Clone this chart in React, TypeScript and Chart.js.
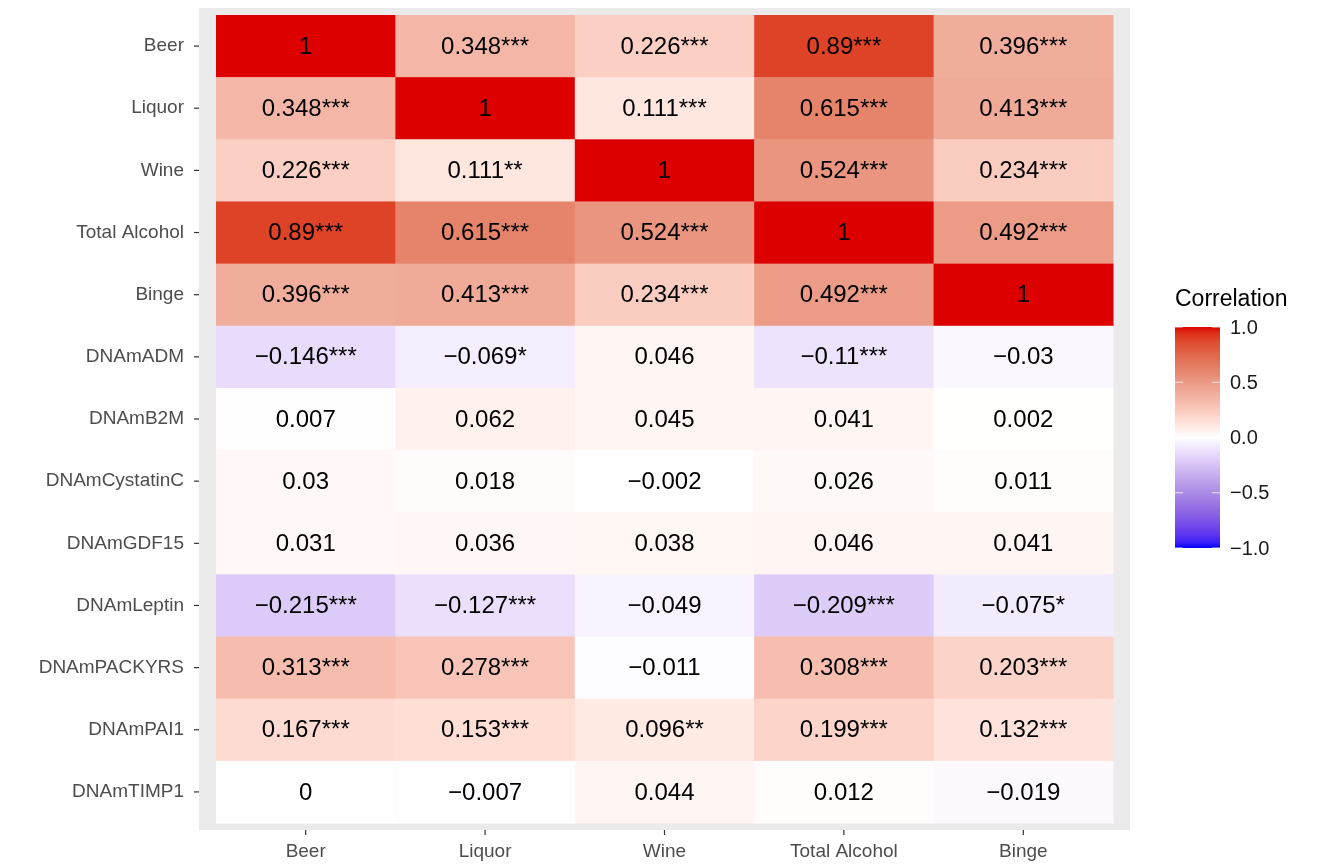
import React, { useRef, useEffect } from "react";
import { Chart, registerables } from "chart.js";

Chart.register(...registerables);

const columns = ["Beer", "Liquor", "Wine", "Total Alcohol", "Binge"];
const rows = [
  "Beer", "Liquor", "Wine", "Total Alcohol", "Binge", "DNAmADM", "DNAmB2M",
  "DNAmCystatinC", "DNAmGDF15", "DNAmLeptin", "DNAmPACKYRS", "DNAmPAI1", "DNAmTIMP1",
];
// one array of displayed labels per column
const beerCells = ["1", "0.348***", "0.226***", "0.89***", "0.396***", "−0.146***", "0.007", "0.03", "0.031", "−0.215***", "0.313***", "0.167***", "0"];
const liquorCells = ["0.348***", "1", "0.111**", "0.615***", "0.413***", "−0.069*", "0.062", "0.018", "0.036", "−0.127***", "0.278***", "0.153***", "−0.007"];
const wineCells = ["0.226***", "0.111***", "1", "0.524***", "0.234***", "0.046", "0.045", "−0.002", "0.038", "−0.049", "−0.011", "0.096**", "0.044"];
const totalCells = ["0.89***", "0.615***", "0.524***", "1", "0.492***", "−0.11***", "0.041", "0.026", "0.046", "−0.209***", "0.308***", "0.199***", "0.012"];
const bingeCells = ["0.396***", "0.413***", "0.234***", "0.492***", "1", "−0.03", "0.002", "0.011", "0.041", "−0.075*", "0.203***", "0.132***", "−0.019"];
const cellColumns = [beerCells, liquorCells, wineCells, totalCells, bingeCells];
const legendTicks = [1, 0.5, 0, -0.5, -1];

const toNumber = (s: string) => parseFloat(s.replace("−", "-").replace(/\*/g, ""));

// Lab interpolation like ggplot's gradient2
function srgbToLin(c: number) { c /= 255; return c <= 0.04045 ? c / 12.92 : Math.pow((c + 0.055) / 1.055, 2.4); }
function linToSrgb(c: number) { const v = c <= 0.0031308 ? 12.92 * c : 1.055 * Math.pow(c, 1 / 2.4) - 0.055; return Math.round(Math.max(0, Math.min(1, v)) * 255); }
const Xn = 0.95047, Yn = 1, Zn = 1.08883;
const f = (t: number) => (t > 216 / 24389 ? Math.cbrt(t) : (24389 / 27 * t + 16) / 116);
const finv = (t: number) => (t * t * t > 216 / 24389 ? t * t * t : (116 * t - 16) / (24389 / 27));
function toLab([r, g, b]: number[]) {
  const R = srgbToLin(r), G = srgbToLin(g), B = srgbToLin(b);
  const X = 0.4124 * R + 0.3576 * G + 0.1805 * B;
  const Y = 0.2126 * R + 0.7152 * G + 0.0722 * B;
  const Z = 0.0193 * R + 0.1192 * G + 0.9505 * B;
  const fx = f(X / Xn), fy = f(Y / Yn), fz = f(Z / Zn);
  return [116 * fy - 16, 500 * (fx - fy), 200 * (fy - fz)];
}
function fromLab([L, a, bb]: number[]) {
  const fy = (L + 16) / 116, fx = fy + a / 500, fz = fy - bb / 200;
  const X = Xn * finv(fx), Y = Yn * finv(fy), Z = Zn * finv(fz);
  const R = 3.2406 * X - 1.5372 * Y - 0.4986 * Z;
  const G = -0.9689 * X + 1.8758 * Y + 0.0415 * Z;
  const B = 0.0557 * X - 0.204 * Y + 1.057 * Z;
  return `rgb(${linToSrgb(R)},${linToSrgb(G)},${linToSrgb(B)})`;
}
const labHigh = toLab([221, 0, 0]);
const labMid = toLab([255, 255, 255]);
const labLow = toLab([0, 0, 255]);
function colorFor(v: number) {
  const end = v >= 0 ? labHigh : labLow;
  const t = Math.min(1, Math.abs(v));
  const lab = labMid.map((m, i) => m + (end[i] - m) * t);
  // slightly muted chroma, as in the reference
  const k = 1 - 0.22 * Math.sin(Math.PI * t);
  return fromLab([lab[0] - 2 * Math.sin(Math.PI * t), lab[1] * k, lab[2] * k]);
}

const heatPlugin = {
  id: "heat",
  beforeDatasetsDraw(chart: any) {
    const { ctx, chartArea: a, scales } = chart;
    const xs = scales.x, ys = scales.y;
    const cw = xs.getPixelForValue(1) - xs.getPixelForValue(0);
    const ch = ys.getPixelForValue(1) - ys.getPixelForValue(0);
    ctx.save();
    ctx.fillStyle = "#ebebeb";
    ctx.fillRect(a.left - 17, a.top - 7, a.width + 34, a.height + 14);
    // tick marks
    ctx.strokeStyle = "#333";
    ctx.lineWidth = 1.2;
    rows.forEach((_, r) => {
      const y = ys.getPixelForValue(r);
      ctx.beginPath(); ctx.moveTo(a.left - 17, y); ctx.lineTo(a.left - 22, y); ctx.stroke();
    });
    columns.forEach((_, c) => {
      const x = xs.getPixelForValue(c);
      ctx.beginPath(); ctx.moveTo(x, a.bottom + 7); ctx.lineTo(x, a.bottom + 12); ctx.stroke();
    });
    ctx.font = "24px 'Liberation Sans', Arial, sans-serif";
    ctx.textAlign = "center";
    ctx.textBaseline = "middle";
    cellColumns.forEach((col, c) => {
      col.forEach((label, r) => {
        const x = xs.getPixelForValue(c), y = ys.getPixelForValue(r);
        ctx.fillStyle = colorFor(toNumber(label));
        ctx.fillRect(x - cw / 2, y - ch / 2, cw + 0.5, ch + 0.5);
        ctx.fillStyle = "#000";
        ctx.fillText(label, x, y + 1);
      });
    });
    // legend
    const lx = 1175, lw = 45, ltop = 327, lbot = 548;
    const grad = ctx.createLinearGradient(0, ltop, 0, lbot);
    for (let i = 0; i <= 40; i++) grad.addColorStop(i / 40, colorFor(1 - (2 * i) / 40));
    ctx.fillStyle = grad;
    ctx.fillRect(lx, ltop, lw, lbot - ltop);
    ctx.font = "23px 'Liberation Sans', Arial, sans-serif";
    ctx.textAlign = "left";
    ctx.fillStyle = "#000";
    ctx.fillText("Correlation", 1175, 300);
    ctx.font = "20px 'Liberation Sans', Arial, sans-serif";
    legendTicks.forEach((t) => {
      const y = ltop + ((1 - t) / 2) * (lbot - ltop);
      ctx.strokeStyle = "rgba(255,255,255,0.8)";
      ctx.beginPath(); ctx.moveTo(lx, y); ctx.lineTo(lx + 8, y); ctx.moveTo(lx + lw - 8, y); ctx.lineTo(lx + lw, y); ctx.stroke();
      ctx.fillStyle = "#1a1a1a";
      ctx.fillText(t === 0 ? "0.0" : (t < 0 ? "−" : "") + Math.abs(t).toFixed(1), 1230, y + 1);
    });
    ctx.restore();
  },
};

export default function App() {
  const canvasRef = useRef<HTMLCanvasElement>(null);

  useEffect(() => {
    document.body.style.margin = "0";
    if (!canvasRef.current) return;
    const ctx = canvasRef.current.getContext("2d");
    if (!ctx) return;
    const tickFont = { family: "'Liberation Sans', Arial, sans-serif", size: 19 };
    const chart = new Chart(ctx, {
      type: "scatter",
      data: {
        datasets: [{
          data: columns.flatMap((c) => rows.map((r) => ({ x: c, y: r }))) as any,
          pointRadius: 0,
        }],
      },
      options: {
        responsive: false,
        animation: false,
        plugins: { legend: { display: false }, tooltip: { enabled: false } },
        layout: { padding: { top: 15, right: 213, bottom: 0, left: 0 } },
        scales: {
          x: {
            type: "category", labels: columns, offset: true,
            grid: { display: false }, border: { display: false },
            ticks: { color: "#4d4d4d", font: tickFont, padding: 9 },
            afterFit: (s: any) => { s.height = 42; s.paddingLeft = 0; s.paddingRight = 0; },
          },
          y: {
            type: "category", labels: rows, offset: true,
            grid: { display: false }, border: { display: false },
            ticks: { color: "#4d4d4d", font: tickFont, padding: 24 },
            afterFit: (s: any) => { s.width = 216; s.paddingTop = 0; s.paddingBottom = 0; },
          },
        },
      },
      plugins: [heatPlugin],
    });
    return () => chart.destroy();
  }, []);

  return <canvas ref={canvasRef} width={1326} height={865} style={{ display: "block" }} />;
}
